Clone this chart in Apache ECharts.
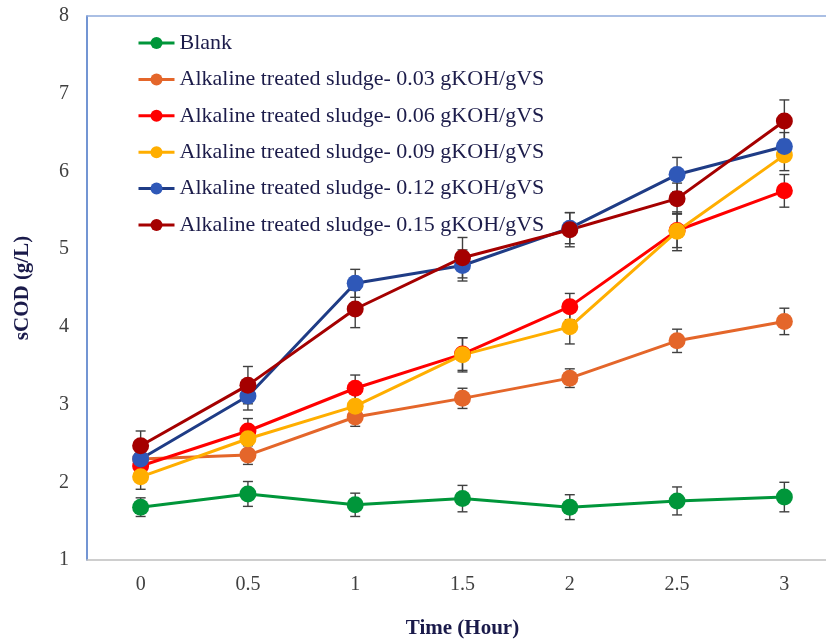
<!DOCTYPE html>
<html>
<head>
<meta charset="utf-8">
<script src="https://cdn.jsdelivr.net/npm/echarts@6/dist/echarts.min.js"></script>
<style>html,body{margin:0;padding:0;background:#fff}#c{width:826px;height:642px}</style>
</head>
<body>
<div id="c"></div>
<script>
var categories = ['0', '0.5', '1', '1.5', '2', '2.5', '3'];
var yTicks = [1, 2, 3, 4, 5, 6, 7, 8];
var seriesNames = ['Blank',
  'Alkaline treated sludge- 0.03 gKOH/gVS',
  'Alkaline treated sludge- 0.06 gKOH/gVS',
  'Alkaline treated sludge- 0.09 gKOH/gVS',
  'Alkaline treated sludge- 0.12 gKOH/gVS',
  'Alkaline treated sludge- 0.15 gKOH/gVS'];
var blank = [1.68, 1.85, 1.71, 1.79, 1.68, 1.76, 1.81];
var koh003 = [2.30, 2.35, 2.84, 3.08, 3.34, 3.82, 4.07];
var koh006 = [2.21, 2.66, 3.21, 3.65, 4.26, 5.24, 5.75];
var koh009 = [2.07, 2.56, 2.98, 3.64, 4.00, 5.23, 6.21];
var koh012 = [2.30, 3.11, 4.56, 4.79, 5.27, 5.96, 6.32];
var koh015 = [2.47, 3.25, 4.23, 4.89, 5.25, 5.65, 6.65];
var blankErr = [0.12, 0.16, 0.15, 0.17, 0.16, 0.18, 0.19];
var koh003Err = [0.12, 0.12, 0.12, 0.13, 0.12, 0.15, 0.17];
var koh006Err = [0.15, 0.16, 0.17, 0.21, 0.17, 0.22, 0.21];
var koh009Err = [0.16, 0.15, 0.16, 0.22, 0.22, 0.25, 0.20];
var koh012Err = [0.15, 0.18, 0.18, 0.20, 0.20, 0.22, 0.18];
var koh015Err = [0.19, 0.24, 0.24, 0.26, 0.22, 0.20, 0.27];

var values = [blank, koh003, koh006, koh009, koh012, koh015];
var errors = [blankErr, koh003Err, koh006Err, koh009Err, koh012Err, koh015Err];
var lineColors = ['#00963A', '#E4662A', '#FF0000', '#FFAE00', '#1F3C86', '#A50000'];
var markColors = ['#00963A', '#E4662A', '#FF0000', '#FFAE00', '#2F58B8', '#A50000'];

var serif = '"Liberation Serif", "DejaVu Serif", serif';
var series = [];
values.forEach(function (vals, i) {
  series.push({
    type: 'custom',
    name: seriesNames[i] + ' err',
    silent: true,
    z: 1,
    data: vals.map(function (v, k) { return [k, v - errors[i][k], v + errors[i][k]]; }),
    encode: { x: 0, y: [1, 2] },
    renderItem: function (params, api) {
      var x = api.value(0);
      var lo = api.coord([x, api.value(1)]);
      var hi = api.coord([x, api.value(2)]);
      var cw = 5;
      var st = { stroke: '#404040', lineWidth: 1.4 };
      return {
        type: 'group',
        children: [
          { type: 'line', shape: { x1: lo[0], y1: lo[1], x2: hi[0], y2: hi[1] }, style: st },
          { type: 'line', shape: { x1: lo[0] - cw, y1: lo[1], x2: lo[0] + cw, y2: lo[1] }, style: st },
          { type: 'line', shape: { x1: hi[0] - cw, y1: hi[1], x2: hi[0] + cw, y2: hi[1] }, style: st }
        ]
      };
    }
  });
});
values.forEach(function (vals, i) {
  series.push({
    type: 'line',
    name: seriesNames[i],
    data: vals,
    z: 3,
    symbol: 'circle',
    symbolSize: 17,
    lineStyle: { color: lineColors[i], width: 3 },
    itemStyle: { color: markColors[i] },
    emphasis: { disabled: true }
  });
});

var chart = echarts.init(document.getElementById('c'), null, { renderer: 'canvas' });
chart.setOption({
  animation: false,
  backgroundColor: '#fff',
  grid: { left: 87, top: 16, width: 751, height: 544, containLabel: false, outerBoundsMode: 'none' },
  legend: {
    data: seriesNames,
    orient: 'vertical',
    left: 132,
    top: 26,
    itemWidth: 36,
    itemHeight: 15,
    itemGap: 12.4,
    lineStyle: { width: 3 },
    textStyle: { fontFamily: serif, fontSize: 22, lineHeight: 24, color: '#1C1C4A' }
  },
  xAxis: [{
    type: 'category',
    data: categories,
    boundaryGap: true,
    axisLine: { lineStyle: { color: '#BFBFBF', width: 1.5 } },
    axisTick: { show: false },
    axisLabel: { fontFamily: serif, fontSize: 20, color: '#404040', margin: 15 },
    name: 'Time (Hour)',
    nameLocation: 'middle',
    nameGap: 58,
    nameTextStyle: { fontFamily: serif, fontSize: 21, fontWeight: 'bold', color: '#1A1A4A' }
  }, {
    type: 'category',
    data: categories,
    position: 'top',
    axisLine: { lineStyle: { color: '#8FAADC', width: 1.5 } },
    axisTick: { show: false },
    axisLabel: { show: false }
  }],
  yAxis: {
    type: 'value',
    min: yTicks[0],
    max: yTicks[yTicks.length - 1],
    interval: 1,
    axisLine: { show: true, lineStyle: { color: '#4472C4', width: 1.5 } },
    axisTick: { show: false },
    splitLine: { show: false },
    axisLabel: { fontFamily: serif, fontSize: 20, color: '#404040', margin: 18 },
    name: 'sCOD (g/L)',
    nameLocation: 'middle',
    nameGap: 54,
    nameTextStyle: { fontFamily: serif, fontSize: 21, fontWeight: 'bold', color: '#1A1A4A' }
  },
  series: series
});
</script>
</body>
</html>
